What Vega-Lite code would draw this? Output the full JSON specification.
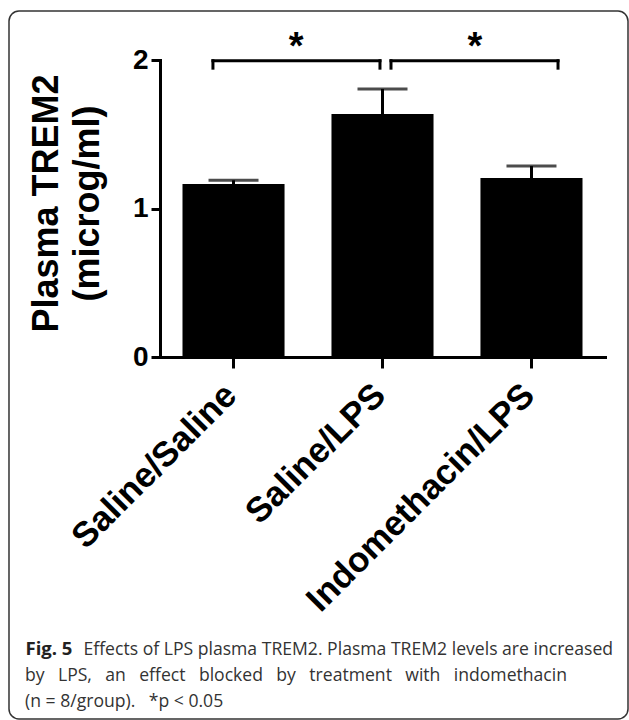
{
  "$schema": "https://vega.github.io/schema/vega-lite/v6.json",
  "width": 619,
  "height": 708,
  "autosize": {"type": "none"},
  "padding": {"left": 9, "top": 11, "right": 1, "bottom": 1},
  "background": "white",
  "config": {
    "view": {"stroke": "#333333", "strokeWidth": 1.5, "cornerRadius": 10},
    "font": "Liberation Sans",
    "axis": {"grid": false}
  },
  "datasets": {
    "bars": [
      {"group": "Saline/Saline", "mean": 1.165, "upper": 1.19},
      {"group": "Saline/LPS", "mean": 1.636, "upper": 1.805},
      {"group": "Indomethacin/LPS", "mean": 1.205, "upper": 1.286}
    ],
    "brackets": [
      {"start": -0.138, "end": 0.983, "top": 1.995, "foot": 1.945, "mid": 0.42, "label": "*"},
      {"start": 1.057, "end": 2.178, "top": 1.995, "foot": 1.945, "mid": 1.62, "label": "*"}
    ]
  },
  "title": {
    "text": [
      "by\u2002 LPS,\u2002 an\u2002 effect\u2002 blocked\u2002 by\u2002 treatment\u2002 with\u2002 indomethacin",
      "(n = 8/group).\u2002 *p < 0.05"
    ],
    "orient": "bottom",
    "anchor": "start",
    "frame": "group",
    "offset": -52,
    "dx": 16,
    "font": "Open Sans",
    "fontSize": 17.6,
    "fontWeight": "normal",
    "color": "#333333",
    "lineHeight": 26
  },
  "layer": [
    {
      "data": {"name": "bars"},
      "encoding": {
        "x": {
          "field": "group",
          "type": "nominal",
          "sort": null,
          "scale": {"range": [151, 596], "paddingInner": 0.315, "paddingOuter": 0.151},
          "axis": {
            "title": "Fig. 5",
            "titleFont": "Open Sans",
            "titleFontSize": 18.5,
            "titleFontWeight": "bold",
            "titleColor": "#222222",
            "titleX": 16,
            "titleY": 297,
            "titleAlign": "left",
            "titleAnchor": "start",
            "titleBaseline": "alphabetic",
            "labelAngle": -45,
            "labelAlign": "right",
            "labelBaseline": "alphabetic",
            "labelFontSize": 35,
            "labelFontWeight": "bold",
            "labelColor": "black",
            "labelPadding": 29,
            "labelOffset": 5,
            "labelLimit": 0,
            "labelOverlap": false,
            "domainColor": "black",
            "domainWidth": 3,
            "domainCap": "square",
            "tickColor": "black",
            "tickWidth": 3,
            "tickSize": 11,
            "offset": -362
          }
        }
      },
      "layer": [
        {
          "mark": {"type": "bar", "color": "black"},
          "encoding": {
            "y": {
              "field": "mean",
              "type": "quantitative",
              "scale": {"domain": [0, 2], "range": [346, 49], "nice": false},
              "axis": {
                "values": [0, 1, 2],
                "format": ".0f",
                "labelOverlap": false,
                "title": ["Plasma TREM2", "(microg/ml)"],
                "titleFontSize": 36,
                "titleFontWeight": "bold",
                "titleColor": "black",
                "titleLineHeight": 41,
                "titlePadding": 26,
                "titleY": 192,
                "labelFontSize": 28,
                "labelFontWeight": "bold",
                "labelColor": "black",
                "labelPadding": 3,
                "domainColor": "black",
                "domainWidth": 3,
                "domainCap": "square",
                "tickColor": "black",
                "tickWidth": 3,
                "tickSize": 9,
                "offset": -151
              }
            }
          }
        },
        {
          "mark": {"type": "rule", "color": "black", "strokeWidth": 3},
          "encoding": {
            "y": {"field": "mean", "type": "quantitative"},
            "y2": {"field": "upper"}
          }
        },
        {
          "mark": {"type": "tick", "color": "black", "thickness": 3, "size": 50, "orient": "horizontal"},
          "encoding": {
            "y": {"field": "upper", "type": "quantitative"}
          }
        }
      ]
    },
    {
      "data": {"name": "brackets"},
      "layer": [
        {
          "mark": {"type": "rule", "color": "black", "strokeWidth": 3, "strokeCap": "square"},
          "encoding": {
            "x": {
              "field": "start",
              "type": "quantitative",
              "scale": {"domain": [-0.4933, 2.4933], "range": [151, 596], "nice": false, "zero": false},
              "axis": {
                "orient": "bottom",
                "domain": false,
                "ticks": false,
                "labels": false,
                "title": "Effects of LPS plasma TREM2. Plasma TREM2 levels are increased",
                "titleFont": "Open Sans",
                "titleFontSize": 17.6,
                "titleFontWeight": "normal",
                "titleColor": "#333333",
                "titleX": 74,
                "titleY": -65,
                "titleAlign": "left",
                "titleAnchor": "start",
                "titleBaseline": "alphabetic"
              }
            },
            "x2": {"field": "end"},
            "y": {"field": "top", "type": "quantitative"}
          }
        },
        {
          "mark": {"type": "rule", "color": "black", "strokeWidth": 3, "strokeCap": "square"},
          "encoding": {
            "x": {"field": "start", "type": "quantitative"},
            "y": {"field": "foot", "type": "quantitative"},
            "y2": {"field": "top"}
          }
        },
        {
          "mark": {"type": "rule", "color": "black", "strokeWidth": 3, "strokeCap": "square"},
          "encoding": {
            "x": {"field": "end", "type": "quantitative"},
            "y": {"field": "foot", "type": "quantitative"},
            "y2": {"field": "top"}
          }
        },
        {
          "mark": {"type": "text", "font": "Liberation Sans", "fontSize": 38, "fontWeight": "bold", "color": "black", "baseline": "alphabetic", "align": "center"},
          "encoding": {
            "x": {"field": "mid", "type": "quantitative"},
            "y": {"datum": 2.01, "type": "quantitative"},
            "text": {"field": "label"}
          }
        }
      ]
    }
  ],
  "resolve": {"scale": {"x": "independent"}}
}
